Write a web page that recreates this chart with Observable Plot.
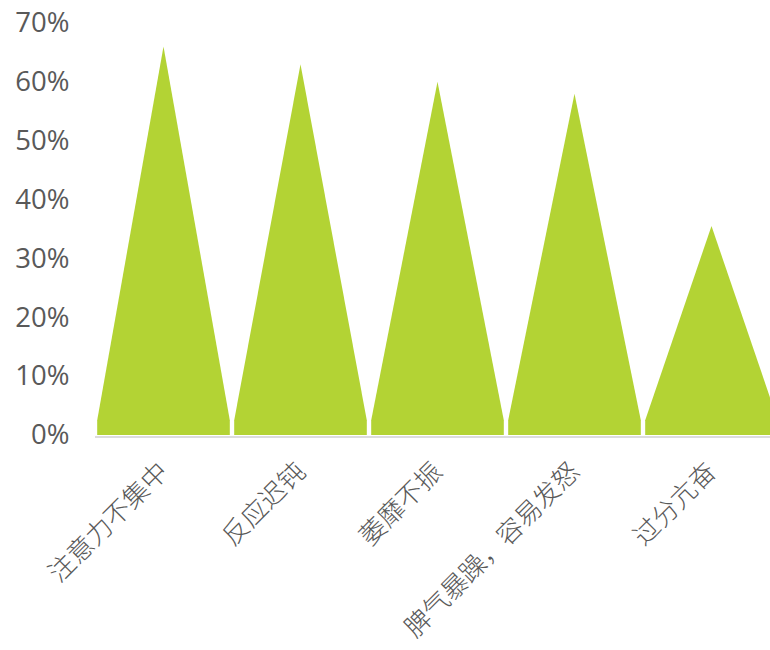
<!DOCTYPE html>
<html>
<head>
<meta charset="utf-8">
<script src="https://cdn.jsdelivr.net/npm/d3@7"></script>
<script src="https://cdn.jsdelivr.net/npm/@observablehq/plot@0.6"></script>
<style>
  html, body { margin: 0; padding: 0; background: #fff; overflow: hidden; }
  #chart svg { display: block; }
  #chart svg g[aria-label="x-axis tick label"] text { font-weight: 300; }
</style>
</head>
<body>
<div id="chart"></div>
<script>
const categories = ["注意力不集中", "反应迟钝", "萎靡不振", "脾气暴躁，容易发怒", "过分亢奋"];
const values = [0.66, 0.63, 0.60, 0.58, 0.355];
const yTicks = [0, 0.1, 0.2, 0.3, 0.4, 0.5, 0.6, 0.7];

// shape parameters for the triangular pictorial bar
const halfWidth = 0.484;   // fraction of category step
const shoulder = 0.025;    // height of the short vertical base

const pts = [];
categories.forEach((c, i) => {
  const v = values[i];
  pts.push({c, x: i - halfWidth, y: 0});
  pts.push({c, x: i - halfWidth, y: shoulder});
  pts.push({c, x: i, y: v});
  pts.push({c, x: i + halfWidth, y: shoulder});
  pts.push({c, x: i + halfWidth, y: 0});
});

const font = "'Open Sans', 'Noto Sans CJK SC', sans-serif";

const chart = Plot.plot({
  width: 770,
  height: 650,
  marginLeft: 95,
  marginRight: -10,
  marginTop: 23,
  marginBottom: 215,
  style: {fontFamily: font, fontSize: "26px", color: "#595959", background: "#fff"},
  x: {type: "linear", domain: [-0.5, 4.5], axis: null},
  y: {domain: [0, 0.7], axis: null},
  marks: [
    Plot.ruleY([0], {stroke: "#dcdcdc", strokeWidth: 2, dy: 1.5}),
    Plot.areaY(pts, {x: "x", y1: 0, y2: "y", z: "c", fill: "#b3d334", curve: "linear"}),
    Plot.axisY({
      ticks: yTicks,
      tickFormat: d => Math.round(d * 100) + "%",
      tickSize: 0,
      tickPadding: 26,
      fontSize: 27.5,
      fill: "#595959",
      label: null
    }),
    Plot.axisX({
      ticks: d3.range(categories.length),
      tickFormat: i => categories[i],
      tickSize: 0,
      tickPadding: 32,
      tickRotate: -45,
      fontSize: 26,
      fill: "#595959",
      label: null
    })
  ]
});
document.getElementById("chart").appendChild(chart);
</script>
</body>
</html>
